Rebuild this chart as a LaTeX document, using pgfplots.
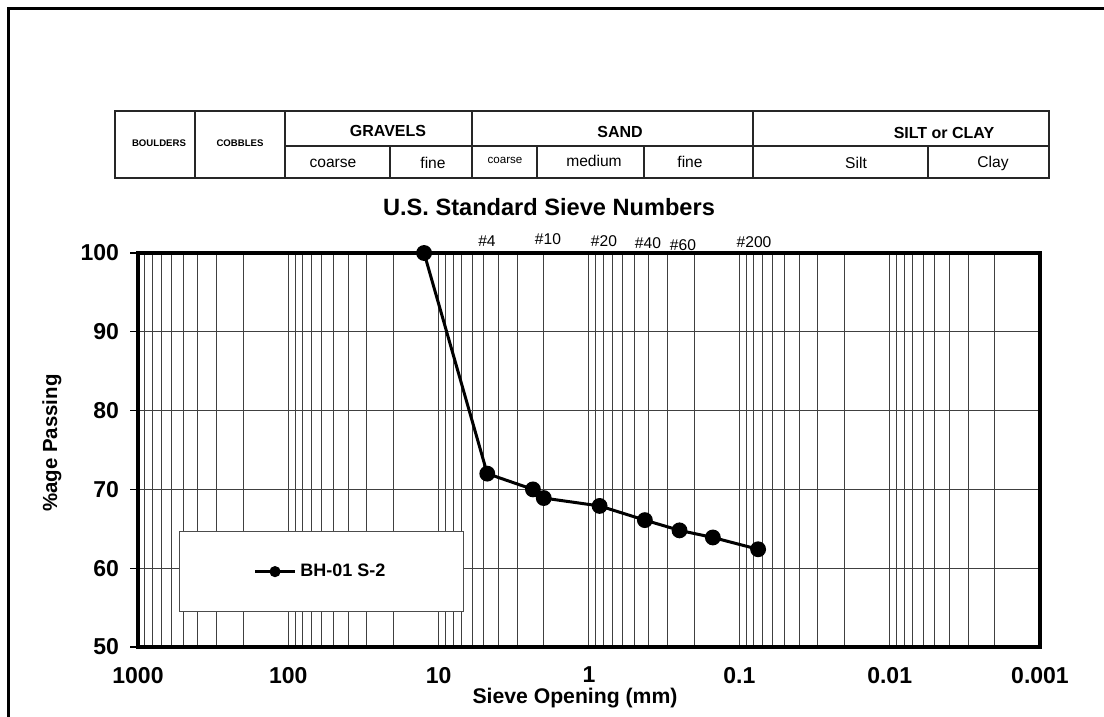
\documentclass[border=0pt]{standalone}
\usepackage{fontspec}
\setmainfont{Liberation Sans}
\usepackage{pgfplots}
\pgfplotsset{compat=1.18}

\newcommand{\fs}[1]{\fontsize{#1}{#1}\selectfont}

\begin{document}
\begin{tikzpicture}
\begin{axis}[
  at={(0pt,0pt)}, anchor=south west,
  scale only axis, width=451pt, height=197pt,
  xmode=log, x dir=reverse,
  xmin=0.001, xmax=1000, ymin=50, ymax=100,
  xtick={0.001,0.01,0.1,1,10,100,1000},
  xticklabels={0.001,0.01,0.1,1,10,100,1000},
  minor xtick={0.002,0.003,0.004,0.005,0.006,0.007,0.008,0.009,
               0.02,0.03,0.04,0.05,0.06,0.07,0.08,0.09,
               0.2,0.3,0.4,0.5,0.6,0.7,0.8,0.9,
               2,3,4,5,6,7,8,9,
               20,30,40,50,60,70,80,90,
               200,300,400,500,600,700,800,900},
  ytick={50,60,70,80,90,100},
  xmajorgrids, xminorgrids, ymajorgrids,
  grid style={black!75, line width=0.5pt},
  minor grid style={black!75, line width=0.5pt},
  axis line style={line width=1.8pt},
  tick align=outside, ytick pos=left,
  x tick style={draw=none},
  minor tick length=0pt, major tick length=4pt,
  y tick style={black, line width=0.6pt},
  tick label style={font=\fs{11.5}\bfseries},
  /pgf/number format/assume math mode=true,
  xticklabel style={yshift=-2.5pt},
  yticklabel style={xshift=-2pt},
  legend style={at={(0.0455,0.0888)}, anchor=south west,
    draw=black!70, line width=0.6pt,
    inner xsep=37pt, inner ysep=14pt,
    font=\fs{9}\bfseries},
]
\addplot[black, line width=1.5pt, mark=*, mark size=3.2pt,
  legend image code/.code={
    \draw[line width=1.4pt] (0pt,0pt) -- (20pt,0pt);
    \fill (10pt,0pt) circle (2pt);}]
coordinates {
  (12.5,100) (4.75,72.0) (2.36,70.0) (2.0,68.9) (0.85,67.9)
  (0.425,66.1) (0.25,64.8) (0.15,63.9) (0.075,62.4)
};
\addlegendentry{BH-01 S-2}
\end{axis}

\begin{scope}[x=0.5pt, y=-0.5pt, shift={(-69pt,323.5pt)}]
  % outer frame (top and left only)
  \draw[line width=1.5pt] (9,720) -- (9,9) -- (1110,9);

  % soil classification table
  \begin{scope}[line width=1pt, draw=black!85]
    \draw (115,111) rectangle (1049,178);
    \draw (285,146) -- (1049,146);
    \foreach \xx in {195,285,472,753} \draw (\xx,111) -- (\xx,178);
    \foreach \xx in {390,537,644,928} \draw (\xx,146) -- (\xx,178);
  \end{scope}
  \node[font=\fs{4.8}\bfseries] at (159,143) {BOULDERS};
  \node[font=\fs{4.8}\bfseries] at (240,143) {COBBLES};
  \node[font=\fs{8}\bfseries] at (388,131) {GRAVELS};
  \node[font=\fs{8}\bfseries] at (620,132) {SAND};
  \node[font=\fs{8}\bfseries] at (944,133) {SILT or CLAY};
  \node[font=\fs{7.8}] at (333,163) {coarse};
  \node[font=\fs{7.8}] at (433,163) {fine};
  \node[font=\fs{5.8}] at (505,160) {coarse};
  \node[font=\fs{7.8}] at (594,161) {medium};
  \node[font=\fs{7.8}] at (690,162) {fine};
  \node[font=\fs{7.8}] at (856,163) {Silt};
  \node[font=\fs{7.8}] at (993,163) {Clay};

  % titles
  \node[font=\fs{11.8}\bfseries] at (549,207) {U.S. Standard Sieve Numbers};
  \node[font=\fs{10.6}\bfseries] at (575,698) {Sieve Opening (mm)};
  \node[font=\fs{10.2}\bfseries, rotate=90] at (52,443) {\%age Passing};

  % sieve numbers
  \node[font=\fs{7.8}] at (487,241) {\#4};
  \node[font=\fs{7.8}] at (548,239) {\#10};
  \node[font=\fs{7.8}] at (604,241) {\#20};
  \node[font=\fs{7.8}] at (648,243) {\#40};
  \node[font=\fs{7.8}] at (683,245) {\#60};
  \node[font=\fs{7.8}] at (754,242) {\#200};

  \pgfresetboundingbox
  \path[use as bounding box] (0,0) rectangle (1104,717);
\end{scope}
\end{tikzpicture}
\end{document}
